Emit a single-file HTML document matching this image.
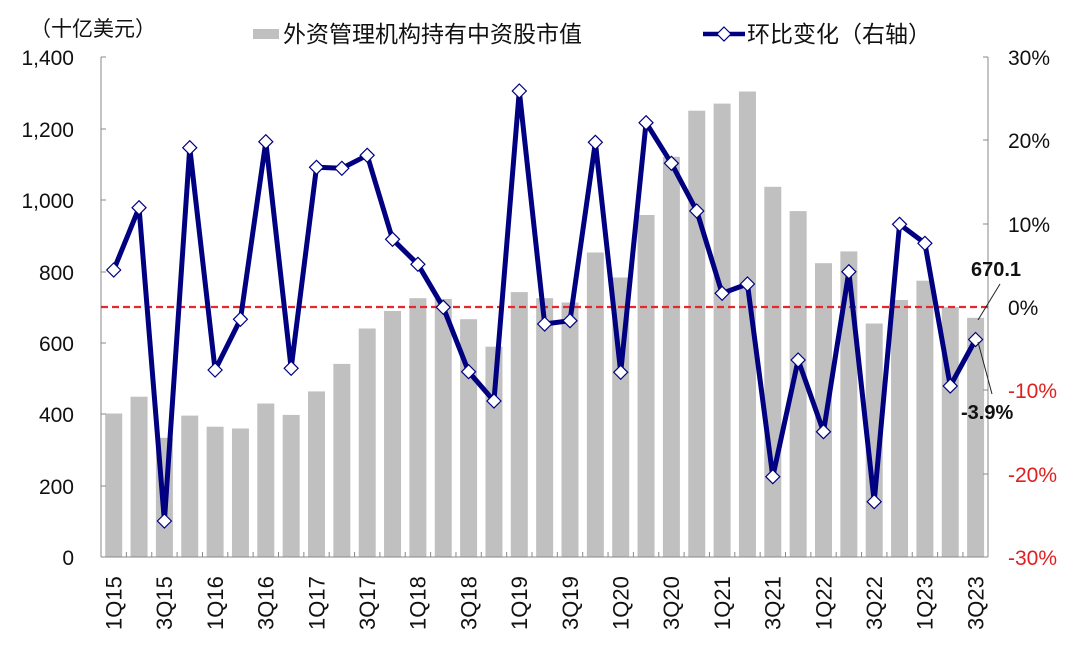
<!DOCTYPE html>
<html><head><meta charset="utf-8"><style>
html,body{margin:0;padding:0;background:#fff;}
svg text{font-family:"Liberation Sans","Noto Sans CJK SC",sans-serif;}
</style></head><body>
<svg width="1080" height="647" viewBox="0 0 1080 647" xmlns="http://www.w3.org/2000/svg">
<defs><path id="d" d="M0 -7 L7 0 L0 7 L-7 0 Z" fill="#fff" stroke="#000080" stroke-width="1.2"/></defs>
<rect width="1080" height="647" fill="#fff"/>
<text x="30" y="36" font-size="21" fill="#111">（十亿美元）</text>
<rect x="253" y="29" width="26" height="10" fill="#c0c0c0"/>
<text x="283" y="42" font-size="23" fill="#111">外资管理机构持有中资股市值</text>
<line x1="703" y1="34" x2="745" y2="34" stroke="#000080" stroke-width="4.5"/>
<use href="#d" x="724" y="34"/>
<text x="747" y="42" font-size="23" fill="#111">环比变化（右轴）</text>
<g fill="#c0c0c0">
<rect x="105.2" y="413.5" width="17" height="143.5"/>
<rect x="130.55" y="396.7" width="17" height="160.3"/>
<rect x="155.9" y="437.8" width="17" height="119.2"/>
<rect x="181.25" y="415.6" width="17" height="141.4"/>
<rect x="206.6" y="426.7" width="17" height="130.3"/>
<rect x="231.95" y="428.5" width="17" height="128.5"/>
<rect x="257.3" y="403.5" width="17" height="153.5"/>
<rect x="282.65" y="414.9" width="17" height="142.1"/>
<rect x="308" y="391.4" width="17" height="165.6"/>
<rect x="333.35" y="363.9" width="17" height="193.1"/>
<rect x="358.7" y="328.5" width="17" height="228.5"/>
<rect x="384.05" y="311" width="17" height="246"/>
<rect x="409.4" y="298.2" width="17" height="258.8"/>
<rect x="434.75" y="298.9" width="17" height="258.1"/>
<rect x="460.1" y="319.2" width="17" height="237.8"/>
<rect x="485.45" y="346.7" width="17" height="210.3"/>
<rect x="510.8" y="292.1" width="17" height="264.9"/>
<rect x="536.15" y="298.2" width="17" height="258.8"/>
<rect x="561.5" y="302.5" width="17" height="254.5"/>
<rect x="586.85" y="252.5" width="17" height="304.5"/>
<rect x="612.2" y="277.5" width="17" height="279.5"/>
<rect x="637.55" y="215" width="17" height="342"/>
<rect x="662.9" y="156.8" width="17" height="400.2"/>
<rect x="688.25" y="110.7" width="17" height="446.3"/>
<rect x="713.6" y="103.6" width="17" height="453.4"/>
<rect x="738.95" y="91.5" width="17" height="465.5"/>
<rect x="764.3" y="186.8" width="17" height="370.2"/>
<rect x="789.65" y="211.1" width="17" height="345.9"/>
<rect x="815" y="263.2" width="17" height="293.8"/>
<rect x="840.35" y="251.4" width="17" height="305.6"/>
<rect x="865.7" y="323.5" width="17" height="233.5"/>
<rect x="891.05" y="300" width="17" height="257"/>
<rect x="916.4" y="280.7" width="17" height="276.3"/>
<rect x="941.75" y="307.1" width="17" height="249.9"/>
<rect x="967.1" y="317.8" width="17" height="239.2"/>
</g>
<g stroke="#888" stroke-width="1" fill="none">
<line x1="101" y1="57" x2="101" y2="557"/>
<line x1="988" y1="57" x2="988" y2="557"/>
<line x1="101" y1="557" x2="988" y2="557"/>
<path d="M101 57h5M101 129h5M101 200h5M101 272h5M101 343h5M101 414h5M101 486h5M983 57h5M983 140h5M983 224h5M983 390h5M983 474h5M983 557h5"/>
<path d="M126.4 552V557M151.75 552V557M177.1 552V557M202.45 552V557M227.8 552V557M253.15 552V557M278.5 552V557M303.85 552V557M329.2 552V557M354.55 552V557M379.9 552V557M405.25 552V557M430.6 552V557M455.95 552V557M481.3 552V557M506.65 552V557M532 552V557M557.35 552V557M582.7 552V557M608.05 552V557M633.4 552V557M658.75 552V557M684.1 552V557M709.45 552V557M734.8 552V557M760.15 552V557M785.5 552V557M810.85 552V557M836.2 552V557M861.55 552V557M886.9 552V557M912.25 552V557M937.6 552V557M962.95 552V557"/>
</g>
<g font-size="21" fill="#111" text-anchor="end">
<text x="74" y="65">1,400</text><text x="74" y="137">1,200</text><text x="74" y="208">1,000</text>
<text x="74" y="280">800</text><text x="74" y="351">600</text><text x="74" y="422">400</text>
<text x="74" y="494">200</text><text x="74" y="565">0</text>
</g>
<g font-size="21" text-anchor="start">
<text x="1008" y="65" fill="#111">30%</text><text x="1008" y="148" fill="#111">20%</text>
<text x="1008" y="232" fill="#111">10%</text><text x="1008" y="315" fill="#111">0%</text>
<text x="1008" y="398" fill="#e02020">-10%</text><text x="1008" y="482" fill="#e02020">-20%</text>
<text x="1008" y="565" fill="#e02020">-30%</text>
</g>
<line x1="101" y1="307" x2="988" y2="307" stroke="#e8262b" stroke-width="2.2" stroke-dasharray="7,4"/>
<polyline fill="none" stroke="#000080" stroke-width="5" stroke-linejoin="round" points="113.7,270 139.05,207.7 164.4,521 189.75,147.7 215.1,370 240.45,319.3 265.8,141.7 291.15,368.3 316.5,167.3 341.85,168.3 367.2,155.3 392.55,239.3 417.9,264.3 443.25,307.3 468.6,371.7 493.95,401 519.3,91 544.65,324 570,320.7 595.35,142.3 620.7,372.3 646.05,122.7 671.4,163.3 696.75,211 722.1,293.3 747.45,284 772.8,476.7 798.15,360 823.5,431.7 848.85,271.7 874.2,501.7 899.55,224.3 924.9,243.3 950.25,386 975.6,339.5"/>
<g>
<use href="#d" x="113.7" y="270"/><use href="#d" x="139.05" y="207.7"/><use href="#d" x="164.4" y="521"/><use href="#d" x="189.75" y="147.7"/><use href="#d" x="215.1" y="370"/><use href="#d" x="240.45" y="319.3"/><use href="#d" x="265.8" y="141.7"/><use href="#d" x="291.15" y="368.3"/><use href="#d" x="316.5" y="167.3"/><use href="#d" x="341.85" y="168.3"/><use href="#d" x="367.2" y="155.3"/><use href="#d" x="392.55" y="239.3"/><use href="#d" x="417.9" y="264.3"/><use href="#d" x="443.25" y="307.3"/><use href="#d" x="468.6" y="371.7"/><use href="#d" x="493.95" y="401"/><use href="#d" x="519.3" y="91"/><use href="#d" x="544.65" y="324"/><use href="#d" x="570" y="320.7"/><use href="#d" x="595.35" y="142.3"/><use href="#d" x="620.7" y="372.3"/><use href="#d" x="646.05" y="122.7"/><use href="#d" x="671.4" y="163.3"/><use href="#d" x="696.75" y="211"/><use href="#d" x="722.1" y="293.3"/><use href="#d" x="747.45" y="284"/><use href="#d" x="772.8" y="476.7"/><use href="#d" x="798.15" y="360"/><use href="#d" x="823.5" y="431.7"/><use href="#d" x="848.85" y="271.7"/><use href="#d" x="874.2" y="501.7"/><use href="#d" x="899.55" y="224.3"/><use href="#d" x="924.9" y="243.3"/><use href="#d" x="950.25" y="386"/><use href="#d" x="975.6" y="339.5"/>
</g>
<g font-size="22" fill="#111">
<text transform="translate(121.5,630) rotate(-90)">1Q15</text>
<text transform="translate(172.2,630) rotate(-90)">3Q15</text>
<text transform="translate(222.9,630) rotate(-90)">1Q16</text>
<text transform="translate(273.6,630) rotate(-90)">3Q16</text>
<text transform="translate(324.3,630) rotate(-90)">1Q17</text>
<text transform="translate(375,630) rotate(-90)">3Q17</text>
<text transform="translate(425.7,630) rotate(-90)">1Q18</text>
<text transform="translate(476.4,630) rotate(-90)">3Q18</text>
<text transform="translate(527.1,630) rotate(-90)">1Q19</text>
<text transform="translate(577.8,630) rotate(-90)">3Q19</text>
<text transform="translate(628.5,630) rotate(-90)">1Q20</text>
<text transform="translate(679.2,630) rotate(-90)">3Q20</text>
<text transform="translate(729.9,630) rotate(-90)">1Q21</text>
<text transform="translate(780.6,630) rotate(-90)">3Q21</text>
<text transform="translate(831.3,630) rotate(-90)">1Q22</text>
<text transform="translate(882,630) rotate(-90)">3Q22</text>
<text transform="translate(932.7,630) rotate(-90)">1Q23</text>
<text transform="translate(983.4,630) rotate(-90)">3Q23</text>
</g>
<line x1="978" y1="320" x2="1000" y2="284" stroke="#222" stroke-width="1"/>
<line x1="978" y1="342" x2="992" y2="394" stroke="#222" stroke-width="1"/>
<text x="971" y="276" font-size="20" font-weight="bold" fill="#111">670.1</text>
<text x="961" y="419" font-size="20" font-weight="bold" fill="#111">-3.9%</text>
</svg>
</body></html>
